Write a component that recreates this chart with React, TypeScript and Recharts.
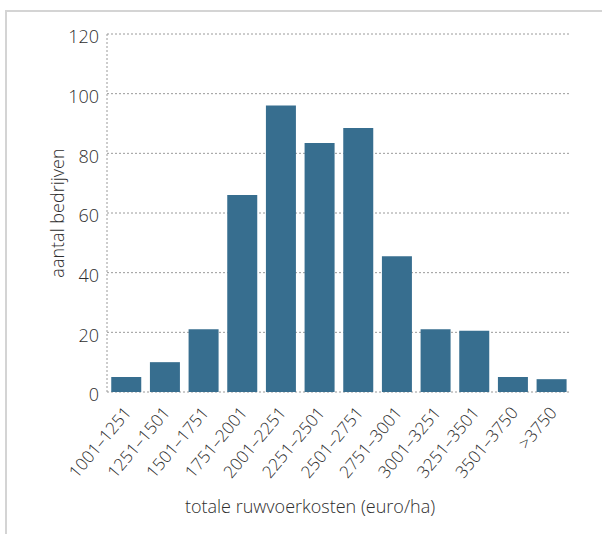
import { BarChart, Bar, XAxis, YAxis, CartesianGrid } from 'recharts';

document.body.style.margin = '0';

const categories = [
  '1001–1251', '1251–1501', '1501–1751', '1751–2001', '2001–2251', '2251–2501',
  '2501–2751', '2751–3001', '3001–3251', '3251–3501', '3501–3750', '>3750',
];
const counts = [5, 10, 21, 66, 96, 83.5, 88.5, 45.5, 21, 20.5, 5, 4.3];
const yTicks = [0, 20, 40, 60, 80, 100, 120];

const data = categories.map((c, i) => ({ range: c, count: counts[i] }));

const FONT = '"Open Sans", Lato, sans-serif';
const TEXT = '#2e2e2e';

const XTick = ({ x, y, payload }: any) => {
  const tx = x + 1;
  const ty = y + 9;
  return (
    <text
      x={tx}
      y={ty}
      transform={`rotate(-50, ${tx}, ${ty})`}
      textAnchor="end"
      dominantBaseline="central"
      fontFamily={FONT}
      fontSize={17}
      fontWeight={300}
      fill={TEXT}
    >
      {payload.value}
    </text>
  );
};

const YLabel = ({ viewBox }: any) => {
  const cx = viewBox.x + 57;
  const cy = viewBox.y + viewBox.height / 2;
  return (
    <text
      x={cx}
      y={cy}
      transform={`rotate(-90, ${cx}, ${cy})`}
      textAnchor="middle"
      dominantBaseline="central"
      fontFamily={FONT}
      fontSize={18}
      fontWeight={300}
      fill={TEXT}
    >
      aantal bedrijven
    </text>
  );
};

const XLabel = ({ viewBox }: any) => (
  <text
    x={viewBox.x + viewBox.width / 2 - 29}
    y={viewBox.y + viewBox.height - 21}
    textAnchor="middle"
    fontFamily={FONT}
    fontSize={18}
    fontWeight={300}
    fill={TEXT}
  >
    totale ruwvoerkosten (euro/ha)
  </text>
);

export default function App() {
  return (
    <div style={{ position: 'relative', width: 602, height: 534, background: '#fff' }}>
      <div
        style={{
          position: 'absolute', left: 5, top: 10, right: 0, bottom: 0,
          borderTop: '2px solid #d4d4d4', borderLeft: '2px solid #d4d4d4',
        }}
      />
      <BarChart
        width={602}
        height={534}
        data={data}
        margin={{ top: 34, right: 31, left: 0, bottom: 0 }}
        barCategoryGap="11%"
        style={{ position: 'absolute', left: 0, top: 0 }}
      >
        <CartesianGrid vertical={false} stroke="#9a9a9a" strokeDasharray="2 2" />
        <XAxis
          dataKey="range"
          height={142}
          interval={0}
          axisLine={false}
          tickLine={false}
          tick={<XTick />}
          label={<XLabel />}
        />
        <YAxis
          width={107}
          domain={[0, 120]}
          ticks={yTicks}
          axisLine={{ stroke: '#9a9a9a', strokeDasharray: '2 2' }}
          tickLine={false}
          tick={{ fontFamily: FONT, fontSize: 18, fontWeight: 300, fill: TEXT, dy: 3 }}
          label={<YLabel />}
        />
        <Bar dataKey="count" fill="#376e8f" isAnimationActive={false} />
      </BarChart>
    </div>
  );
}
